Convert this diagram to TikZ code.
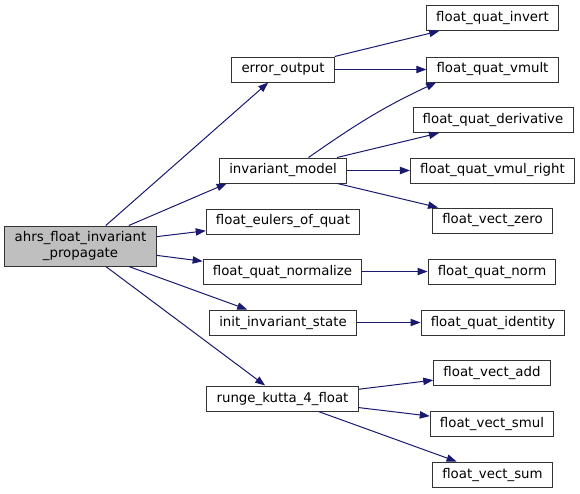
\documentclass[tikz,border=0pt]{standalone}
\usepackage{fontspec}
\setmainfont{DejaVu Sans}
\usetikzlibrary{arrows.meta,positioning}
\definecolor{edgeblue}{RGB}{25,25,112}
\definecolor{rootgray}{RGB}{191,191,191}

\begin{document}
\begin{tikzpicture}[
  x=0.75pt, y=-0.75pt,
  fn/.style={rectangle, draw=black!80, line width=0.75pt, fill=white,
             minimum height=18.75pt, inner xsep=7.3pt, inner ysep=2pt,
             font=\fontsize{10}{11.5}\selectfont},
  rootfn/.style={fn, fill=rootgray, align=center, minimum height=30pt},
  call/.style={-{Triangle[length=7.5pt,width=5.5pt]}, edgeblue, line width=0.75pt},
]
\useasboundingbox (0,0) rectangle (580,493);

% Nodes
\node[rootfn] (root) at (80.5,246) {ahrs\_float\_invariant\\\_propagate};

\node[fn] (errout)    at (283,69.5)  {error\_output};
\node[fn] (invmodel)  at (283,170.5) {invariant\_model};
\node[fn] (eulers)    at (283,221.5) {float\_eulers\_of\_quat};
\node[fn] (normalize) at (282.5,271.5) {float\_quat\_normalize};
\node[fn] (initstate) at (283,322.5) {init\_invariant\_state};
\node[fn] (rk4)       at (282.5,398.5) {runge\_kutta\_4\_float};

\node[fn] (qinvert)    at (492.5,18)    {float\_quat\_invert};
\node[fn] (qvmult)     at (492.5,69.5)  {float\_quat\_vmult};
\node[fn] (qderiv)     at (493,120)     {float\_quat\_derivative};
\node[fn] (qvmulright) at (492.5,170.5) {float\_quat\_vmul\_right};
\node[fn] (vzero)      at (492.5,220.5) {float\_vect\_zero};
\node[fn] (qnorm)      at (492,271.5)   {float\_quat\_norm};
\node[fn] (qident)     at (493,322.5)   {float\_quat\_identity};
\node[fn] (vadd)       at (492,373)     {float\_vect\_add};
\node[fn] (vsmul)      at (492,423.5)   {float\_vect\_smul};
\node[fn] (vsum)       at (492.5,474.5) {float\_vect\_sum};

% Calls from the root
\draw[call] (root.39) -- (errout);
\draw[call] (root.23) -- (invmodel.193);
\draw[call] (root.7) -- (eulers);
\draw[call] (root.-7) -- (normalize);
\draw[call] (root.-23) -- (initstate);
\draw[call] (root.-39) -- (rk4);

% Second level
\draw[call] (errout.north east) -- (qinvert);
\draw[call] (errout) -- (qvmult);
\draw[call] (invmodel.27) to[out=35,in=205] (qvmult.193);
\draw[call] (invmodel) -- (qderiv);
\draw[call] (invmodel) -- (qvmulright);
\draw[call] (invmodel) -- (vzero);
\draw[call] (normalize) -- (qnorm);
\draw[call] (initstate) -- (qident);
\draw[call] (rk4) -- (vadd);
\draw[call] (rk4) -- (vsmul);
\draw[call] (rk4) -- (vsum);

\end{tikzpicture}
\end{document}
